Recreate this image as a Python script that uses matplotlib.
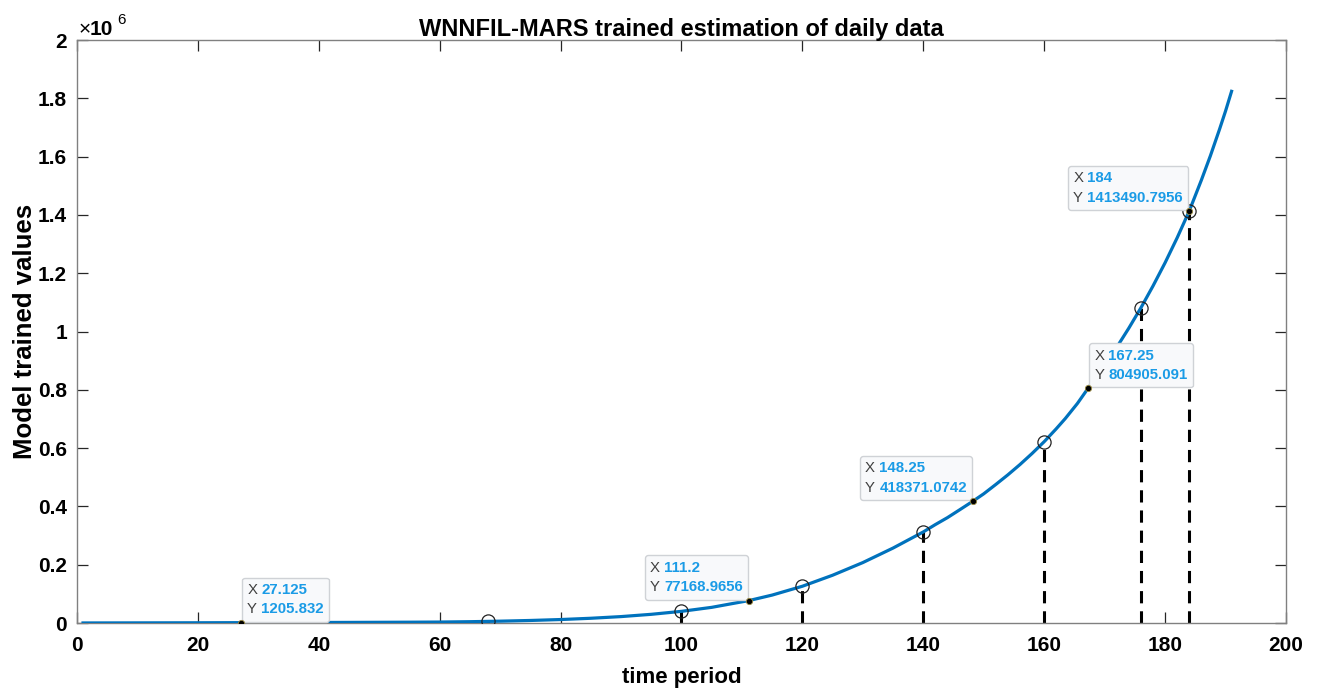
import numpy as np
import matplotlib.pyplot as plt
from matplotlib.offsetbox import TextArea, HPacker, VPacker, AnnotationBbox

plt.rcParams['font.family'] = ['Liberation Sans', 'DejaVu Sans']

# trained model curve
t = [1, 10, 20, 27.125, 35, 45, 55, 60, 65, 70, 75, 80, 85, 90, 95, 100, 105,
     111.2, 115, 120, 125, 130, 135, 140, 142, 144, 146, 148.25, 150, 152, 154,
     156, 158, 160, 162, 163.5, 165.5, 167.25, 170, 172, 174, 176, 178, 180,
     182, 184, 186, 187.5, 189, 190, 191]
y = [150, 450, 800, 1205.832, 1550, 2065, 2800, 3300, 4500, 6300, 8700, 11900,
     16250, 22000, 29800, 40000, 53700, 77168.9656, 95800, 126100, 163900,
     207300, 257100, 312400, 337700, 361500, 388100, 418371.0742, 443200,
     475300, 508400, 543700, 581600, 622000, 666400, 701600, 753200,
     804905.091, 883700, 945800, 1011400, 1081200, 1156100, 1235800, 1321500,
     1413490.7956, 1519100, 1603000, 1693200, 1756100, 1824000]

# sampled points with drop lines
t_mark = [68, 100, 120, 140, 160, 176, 184]
y_mark = [5400, 40000, 126100, 312400, 622000, 1081200, 1413490.7956]

# data tips
tip_x = [27.125, 111.2, 148.25, 167.25, 184]
tip_y = [1205.832, 77168.9656, 418371.0742, 804905.091, 1413490.7956]
tip_xlab = ['27.125', '111.2', '148.25', '167.25', '184']
tip_ylab = ['1205.832', '77168.9656', '418371.0742', '804905.091', '1413490.7956']
tip_side = ['right', 'left', 'left', 'right', 'left']

fig = plt.figure(figsize=(13.18, 6.91), dpi=100)
ax = fig.add_axes([0.0584, 0.0984, 0.9173, 0.8437])

for xm, ym in zip(t_mark, y_mark):
    ax.plot([xm, xm], [0, ym], color='black', lw=2.2, ls=(0, (4, 2.6)), zorder=2)
ax.plot(t, y, color='#0072BD', lw=2.3, zorder=3)
ax.plot(t_mark, y_mark, 'o', mfc='none', mec='#222222', ms=9.5, mew=0.9, zorder=4)
ax.plot(tip_x, tip_y, 'o', color='black', mec='#9a8a40', ms=4.5, mew=0.6, zorder=6)

for xv, yv, xl, yl, side in zip(tip_x, tip_y, tip_xlab, tip_ylab, tip_side):
    rows = []
    for lab, val in (('X', xl), ('Y', yl)):
        a = TextArea(lab, textprops=dict(color='#404040', fontsize=10.8))
        b = TextArea(val, textprops=dict(color='#1a9be6', fontsize=10.8, fontweight='bold'))
        rows.append(HPacker(children=[a, b], pad=0, sep=3, align='baseline'))
    box = VPacker(children=rows, pad=0, sep=4, align='left')
    if side == 'right':
        align, off = (0, 0), (4.5, 4.5)
    else:
        align, off = (1, 0), (-4.5, 4.5)
    ab = AnnotationBbox(box, (xv, yv), xybox=off, boxcoords='offset points',
                        box_alignment=align, frameon=True, pad=0.38,
                        bboxprops=dict(boxstyle='round,pad=0.38,rounding_size=0.2',
                                       fc='#f8f9fb', ec='#cfd2d6', lw=1.0),
                        zorder=5)
    ax.add_artist(ab)

ax.set_xlim(0, 200)
ax.set_ylim(0, 2e6)
ax.set_xticks(np.arange(0, 201, 20))
ax.set_yticks(np.arange(0, 2.01e6, 0.2e6))
ax.set_yticklabels(['0', '0.2', '0.4', '0.6', '0.8', '1', '1.2', '1.4', '1.6', '1.8', '2'])
ax.tick_params(direction='in', length=8, width=0.9, color='#262626',
               top=True, right=True, labelsize=15)
ax.tick_params(axis='x', pad=9)
ax.tick_params(axis='y', pad=7)
for lbl in ax.get_xticklabels() + ax.get_yticklabels():
    lbl.set_fontweight('bold')
for s in ax.spines.values():
    s.set_color('#808080')
    s.set_linewidth(1.0)

ax.set_xlabel('time period', fontsize=16, fontweight='bold', labelpad=9)
ax.set_ylabel('Model trained values', fontsize=18.5, fontweight='bold', labelpad=1)
ax.set_title('WNNFIL-MARS trained estimation of daily data', fontsize=17,
             fontweight='bold', pad=3)

# exponent label in the top-left corner
ax.text(0.001, 1.008, '\u00d7', transform=ax.transAxes, fontsize=15,
        ha='left', va='baseline')
ax.text(0.0105, 1.008, '10', transform=ax.transAxes, fontsize=15,
        fontweight='bold', ha='left', va='baseline')
ax.text(0.0335, 1.027, '6', transform=ax.transAxes, fontsize=11,
        ha='left', va='baseline')

fig.savefig('out.png', dpi=100)
